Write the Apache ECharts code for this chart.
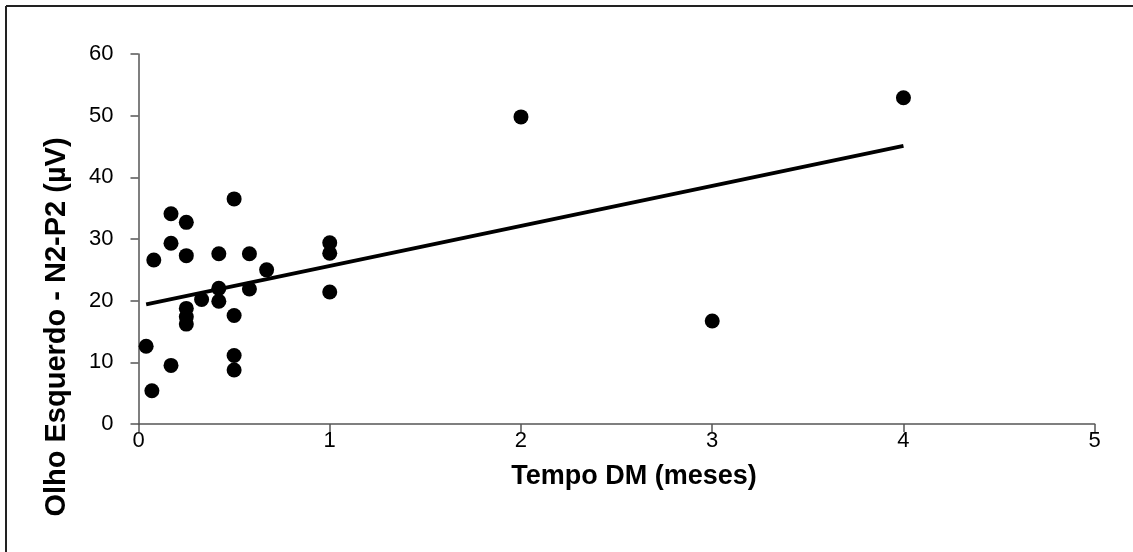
<!DOCTYPE html>
<html>
<head>
<meta charset="utf-8">
<script src="https://cdn.jsdelivr.net/npm/echarts@6/dist/echarts.min.js"></script>
<style>
html,body{margin:0;padding:0;background:#fff;}
#c{width:1133px;height:552px;}
</style>
</head>
<body>
<div id="c"></div>
<script>
var xTicks = [0, 1, 2, 3, 4, 5];
var yTicks = [0, 10, 20, 30, 40, 50, 60];
var tempoDM = [0.50, 0.17, 0.25, 0.17, 1.00, 1.00, 0.08, 0.25, 0.42, 0.58, 0.67, 0.42, 0.58, 1.00, 0.33, 0.42, 0.25, 0.25, 0.25, 0.50, 0.04, 0.50, 0.50, 0.17, 0.07, 2.00, 4.00, 3.00];
var n2p2 = [36.5, 34.1, 32.7, 29.3, 29.4, 27.7, 26.6, 27.3, 27.6, 27.6, 25.0, 22.0, 21.9, 21.4, 20.2, 19.9, 18.75, 17.4, 16.2, 17.6, 12.6, 11.1, 8.75, 9.5, 5.4, 49.8, 52.9, 16.7];
var trendX = [0.04, 4.00];
var trendY = [19.4, 45.1];

var xTitle = 'Tempo DM (meses)';
var yTitle = 'Olho Esquerdo - N2-P2 (\u00b5V)';

var points = tempoDM.map(function (x, i) { return [x, n2p2[i]]; });
var trend = trendX.map(function (x, i) { return [x, trendY[i]]; });

var chart = echarts.init(document.getElementById('c'), null, {renderer: 'canvas'});
var axisColor = '#555555';
var font = '"Liberation Sans", Arial, sans-serif';
chart.setOption({
  animation: false,
  backgroundColor: '#ffffff',
  grid: {left: 138.5, right: 38.3, top: 54, bottom: 128, containLabel: false},
  xAxis: {
    type: 'value', min: xTicks[0], max: xTicks[xTicks.length - 1], interval: 1,
    axisLine: {show: true, onZero: false, lineStyle: {color: axisColor, width: 1.5}},
    axisTick: {show: true, inside: false, length: 8, lineStyle: {color: axisColor, width: 1.5}},
    splitLine: {show: false},
    axisLabel: {color: '#000', fontFamily: font, fontSize: 22, margin: 6}
  },
  yAxis: {
    type: 'value', min: yTicks[0], max: yTicks[yTicks.length - 1], interval: 10,
    axisLine: {show: true, onZero: false, lineStyle: {color: axisColor, width: 1.5}},
    axisTick: {show: true, inside: false, length: 8, lineStyle: {color: axisColor, width: 1.5}},
    splitLine: {show: false},
    axisLabel: {color: '#000', fontFamily: font, fontSize: 22, margin: 25}
  },
  graphic: [
    {type: 'line', shape: {x1: 6, y1: 6, x2: 1133, y2: 6}, style: {stroke: '#222', lineWidth: 2}},
    {type: 'line', shape: {x1: 6, y1: 6, x2: 6, y2: 552}, style: {stroke: '#222', lineWidth: 2}},
    {type: 'text', x: 634, y: 477,
     style: {text: xTitle, fill: '#000', font: 'bold 27px "Liberation Sans", Arial, sans-serif', textAlign: 'center', textVerticalAlign: 'middle'}},
    {type: 'text', x: 57, y: 327, rotation: Math.PI / 2,
     style: {text: yTitle, fill: '#000', font: 'bold 29px "Liberation Sans", Arial, sans-serif', textAlign: 'center', textVerticalAlign: 'middle'}}
  ],
  series: [
    {type: 'scatter', data: points, symbol: 'circle', symbolSize: 15,
     itemStyle: {color: '#000', opacity: 1}, z: 3},
    {type: 'line', data: trend, showSymbol: false, symbol: 'none',
     lineStyle: {color: '#000', width: 4}, z: 2}
  ]
});
</script>
</body>
</html>
